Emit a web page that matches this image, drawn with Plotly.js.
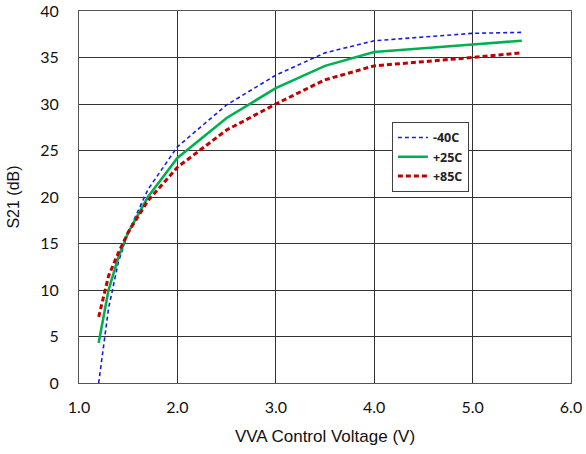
<!DOCTYPE html>
<html><head><meta charset="utf-8">
<script src="https://cdn.plot.ly/plotly-3.0.1.min.js"></script>
<style>html,body{margin:0;padding:0;background:#fff}#c{width:586px;height:454px}</style>
</head><body><div id="c"></div>
<script>
const voltage = [1.2, 1.3, 1.4, 1.5, 1.7, 2.0, 2.5, 3.0, 3.5, 4.0, 5.0, 5.5];
const s21_m40 = [0.0, 8.0, 13.0, 16.2, 20.8, 25.4, 29.9, 33.1, 35.5, 36.8, 37.6, 37.7];
const s21_p25 = [4.3, 10.0, 13.5, 16.2, 20.0, 24.2, 28.5, 31.7, 34.1, 35.6, 36.4, 36.8];
const s21_p85 = [7.1, 11.5, 14.0, 16.2, 19.6, 23.2, 27.2, 30.0, 32.6, 34.1, 35.0, 35.5];
const seriesNames = ['-40C', '+25C', '+85C'];

const traces = [
  {x: voltage, y: s21_m40, name: seriesNames[0], mode: 'lines',
   line: {color: '#1a1ae6', width: 1.6, dash: '4px,3px'}},
  {x: voltage, y: s21_p25, name: seriesNames[1], mode: 'lines',
   line: {color: '#00b050', width: 2.6}},
  {x: voltage, y: s21_p85, name: seriesNames[2], mode: 'lines',
   line: {color: '#c00000', width: 3, dash: '5px,3px'}}
];

const layout = {
  width: 586, height: 454,
  margin: {l: 79, r: 15, t: 11, b: 71},
  paper_bgcolor: '#fff', plot_bgcolor: '#fff',
  showlegend: true,
  legend: {x: 0.636, y: 0.702, xanchor: 'left', yanchor: 'top',
    bordercolor: '#404040', borderwidth: 1, bgcolor: '#fff',
    font: {family: 'Open Sans, Arial, sans-serif', size: 12.5, color: '#222', weight: 'bold'},
    itemwidth: 30, tracegroupgap: 0},
  xaxis: {range: [1.0, 6.0], dtick: 1.0, tick0: 1.0, tickformat: '.1f',
    showgrid: true, gridcolor: '#333', gridwidth: 1,
    showline: true, linecolor: '#555', linewidth: 1, mirror: true,
    zeroline: false, ticks: '', ticklen: 0, ticklabelstandoff: 10,
    tickfont: {family: 'Lato, Open Sans, sans-serif', size: 16, color: '#111'},
    title: {text: 'VVA Control Voltage (V)', standoff: 14,
      font: {family: 'Liberation Sans, Arial, sans-serif', size: 17, color: '#111'}}},
  yaxis: {range: [0, 40], dtick: 5,
    showgrid: true, gridcolor: '#333', gridwidth: 1,
    showline: true, linecolor: '#555', linewidth: 1, mirror: true,
    zeroline: false, ticks: '', ticklen: 0, ticklabelstandoff: 16,
    tickfont: {family: 'Lato, Open Sans, sans-serif', size: 16, color: '#111'},
    title: {text: 'S21 (dB)', standoff: 16,
      font: {family: 'Liberation Sans, Arial, sans-serif', size: 16, color: '#111'}}}
};

Plotly.newPlot('c', traces, layout, {displayModeBar: false, staticPlot: true});
</script></body></html>
